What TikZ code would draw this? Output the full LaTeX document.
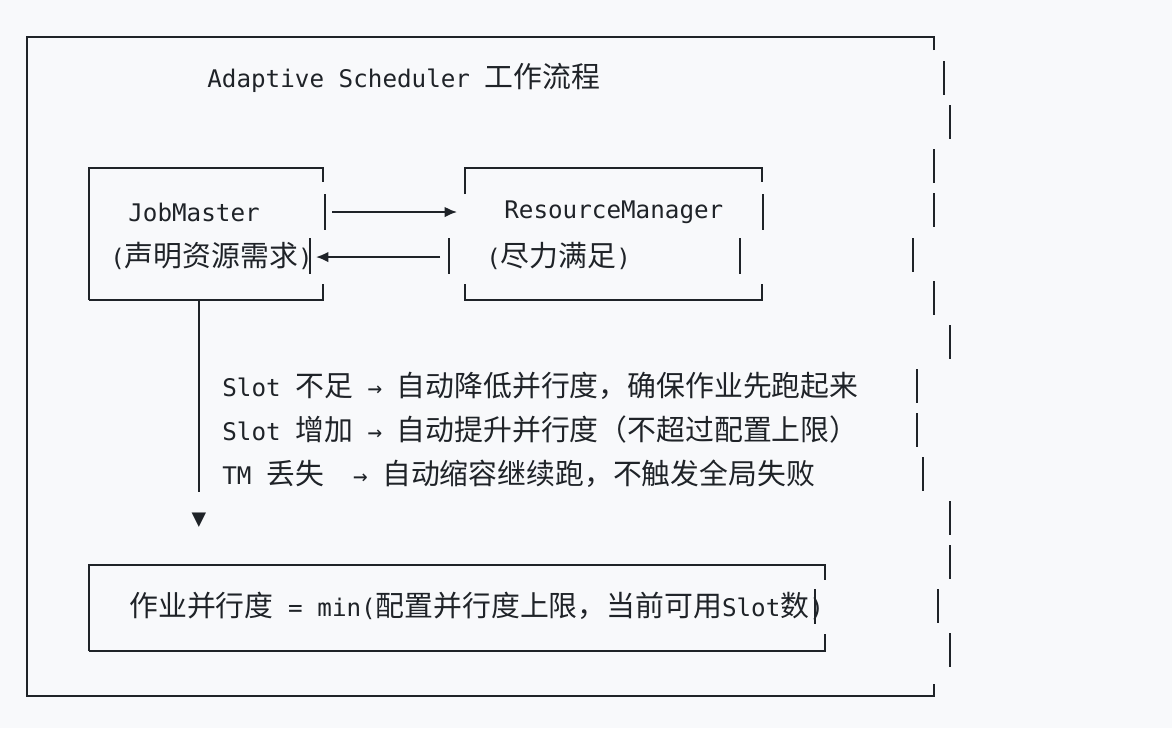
\documentclass[tikz,border=0pt]{standalone}
\usepackage{fontspec}
\setmainfont{DejaVu Sans Mono}
\newfontfamily\cjk[Scale=1.19]{Noto Sans CJK SC}
\usetikzlibrary{arrows.meta}
\definecolor{ink}{HTML}{1F2328}
\definecolor{paper}{HTML}{F8F9FB}
\newcommand{\zh}[1]{{\cjk #1}}
\tikzset{
  box/.style={ink, line width=1.1pt},
  txt/.style={anchor=west, inner sep=0pt, text=ink, font=\fontsize{13.8}{16}\selectfont},
  flow/.style={ink, line width=1.1pt, -{Latex[length=7pt,width=6pt]}}
}
\begin{document}
\begin{tikzpicture}[x=0.02cm, y=-0.02cm]
  \fill[paper] (0,0) rectangle (1172,728);
  \useasboundingbox (0,0) rectangle (1172,728);

  % outer frame
  \draw[box] (934,50) -- (934,37) -- (27,37) -- (27,696) -- (934,696) -- (934,684);
  \foreach \y/\x in {78/944,122/950,166/934,210/934,255/913,298/934,342/950,
                     386/917,430/917,474/923,518/950,562/950,606/938,650/950}
    \draw[box] (\x,\y-17) -- (\x,\y+17);
  \node[txt] (title) at (207,78) {Adaptive Scheduler \zh{工作流程}};

  % JobMaster
  \draw[box] (89,300) -- (89,168) -- (323,168) -- (323,182);
  \draw[box] (325,194) -- (325,230);
  \draw[box] (310,238) -- (310,274);
  \draw[box] (323,284) -- (323,300) -- (89,300);
  \node[txt] (jm) at (128,212) {JobMaster};
  \node[txt] (jmnote) at (110,256) {(\zh{声明资源需求})};

  % ResourceManager
  \draw[box] (465,194) -- (465,168) -- (762,168) -- (762,182);
  \draw[box] (763,194) -- (763,230);
  \draw[box] (449,238) -- (449,274);
  \draw[box] (740,238) -- (740,274);
  \draw[box] (465,284) -- (465,300) -- (762,300) -- (762,284);
  \node[txt] (rm) at (504,212) {ResourceManager};
  \node[txt] (rmnote) at (486,256) {(\zh{尽力满足})};
  \coordinate (a1) at (332,212); \coordinate (a2) at (457,212);
  \coordinate (b1) at (440,257); \coordinate (b2) at (316,257);
  \draw[flow] (a1) -- (a2);
  \draw[flow] (b1) -- (b2);

  % rules
  \coordinate (v1) at (199,300); \coordinate (v2) at (199,492);
  \draw[box] (v1) -- (v2);
  \node[ink, font=\fontsize{13.8}{16}\selectfont] (tip) at (199,520) {▼};
  \node[txt] (r1) at (222,386) {Slot \zh{不足} → \zh{自动降低并行度，确保作业先跑起来}};
  \node[txt] (r2) at (222,430) {Slot \zh{增加} → \zh{自动提升并行度（不超过配置上限）}};
  \node[txt] (r3) at (222,474) {TM \zh{丢失}\ \ → \zh{自动缩容继续跑，不触发全局失败}};

  % result
  \draw[box] (89,651) -- (89,565) -- (825,565) -- (825,580);
  \draw[box] (815,589) -- (815,624);
  \draw[box] (825,634) -- (825,651) -- (89,651);
  \node[txt] (res) at (129,606) {\zh{作业并行度} = min(\zh{配置并行度上限，当前可用}Slot\zh{数})};
\end{tikzpicture}
\end{document}
